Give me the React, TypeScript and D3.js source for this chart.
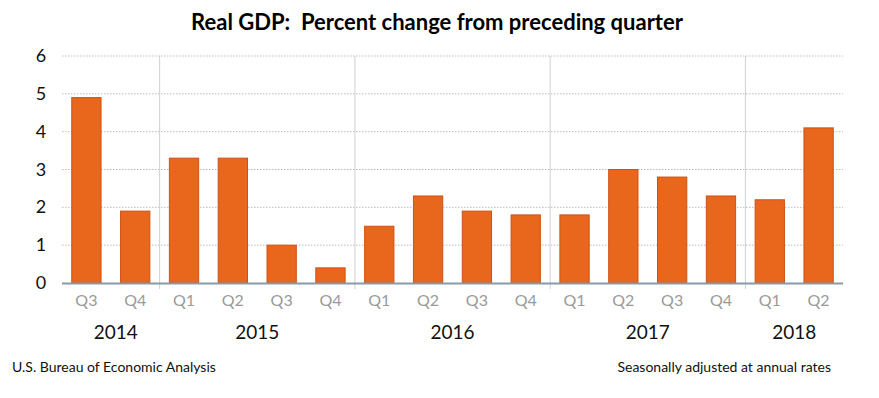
import React, { useEffect, useRef } from "react";
import * as d3 from "d3";

const quarters = ["Q3", "Q4", "Q1", "Q2", "Q3", "Q4", "Q1", "Q2", "Q3", "Q4", "Q1", "Q2", "Q3", "Q4", "Q1", "Q2"];
const years = ["2014", "2014", "2015", "2015", "2015", "2015", "2016", "2016", "2016", "2016", "2017", "2017", "2017", "2017", "2018", "2018"];
const growth = [4.9, 1.9, 3.3, 3.3, 1.0, 0.4, 1.5, 2.3, 1.9, 1.8, 1.8, 3.0, 2.8, 2.3, 2.2, 4.1];
const yTicks = [0, 1, 2, 3, 4, 5, 6];

const W = 879;
const H = 398;
const FONT = "Lato, 'Open Sans', sans-serif";

export default function App() {
  const ref = useRef<SVGSVGElement>(null);

  useEffect(() => {
    const svg = d3.select(ref.current);
    svg.selectAll("*").remove();

    const left = 62;
    const right = 843;
    const top = 56;
    const bottom = 283;

    const keys = quarters.map((q, i) => years[i] + q);
    const x = d3.scaleBand().domain(keys).range([left, right]).paddingInner(0.4).paddingOuter(0.2);
    const y = d3.scaleLinear().domain([0, 6]).range([bottom, top]);
    const step = x.step();

    // title
    svg
      .append("text")
      .attr("x", 437)
      .attr("y", 30)
      .attr("text-anchor", "middle")
      .attr("font-family", FONT)
      .attr("font-weight", "bold")
      .attr("font-size", 22)
      .style("white-space", "pre")
      .text("Real GDP:  Percent change from preceding quarter");

    // dotted gridlines
    svg
      .append("g")
      .selectAll("line")
      .data(yTicks.filter(d => d > 0))
      .enter()
      .append("line")
      .attr("x1", left)
      .attr("x2", right)
      .attr("y1", d => y(d))
      .attr("y2", d => y(d))
      .attr("stroke", "#bdbdbd")
      .attr("stroke-width", 1)
      .attr("stroke-dasharray", "1.5,1.5");

    // year separators
    const groups = Array.from(new Set(years));
    const firstIdx = groups.map(g => years.indexOf(g));
    svg
      .append("g")
      .selectAll("line")
      .data(firstIdx.slice(1))
      .enter()
      .append("line")
      .attr("x1", i => left + i * step)
      .attr("x2", i => left + i * step)
      .attr("y1", top)
      .attr("y2", bottom + 6)
      .attr("stroke", "#d0d0d0")
      .attr("stroke-width", 1);

    // bars
    svg
      .append("g")
      .selectAll("rect")
      .data(growth)
      .enter()
      .append("rect")
      .attr("x", (d, i) => x(keys[i])!)
      .attr("y", d => y(d))
      .attr("width", x.bandwidth())
      .attr("height", d => bottom - y(d))
      .attr("fill", "#e8671d")
      .attr("stroke", "#cc5216")
      .attr("stroke-width", 1);

    // baseline
    svg
      .append("line")
      .attr("x1", left)
      .attr("x2", right)
      .attr("y1", bottom + 0.5)
      .attr("y2", bottom + 0.5)
      .attr("stroke", "#8a9aa8")
      .attr("stroke-width", 2);

    // y tick labels
    svg
      .append("g")
      .selectAll("text")
      .data(yTicks)
      .enter()
      .append("text")
      .attr("x", 41)
      .attr("y", d => y(d) + 6)
      .attr("text-anchor", "middle")
      .attr("font-family", FONT)
      .attr("font-size", 18)
      .attr("fill", "#111")
      .text(d => d);

    // quarter labels
    svg
      .append("g")
      .selectAll("text")
      .data(quarters)
      .enter()
      .append("text")
      .attr("x", (d, i) => x(keys[i])! + x.bandwidth() / 2)
      .attr("y", 306)
      .attr("text-anchor", "middle")
      .attr("font-family", FONT)
      .attr("font-size", 16)
      .attr("fill", "#9a9a9a")
      .text(d => d);

    // year labels
    svg
      .append("g")
      .selectAll("text")
      .data(groups)
      .enter()
      .append("text")
      .attr("x", g => {
        const idx = keys.filter((k, i) => years[i] === g);
        const a = x(idx[0])!;
        const b = x(idx[idx.length - 1])! + x.bandwidth();
        return (a + b) / 2 + (g === "2014" ? 5 : 0);
      })
      .attr("y", 339)
      .attr("text-anchor", "middle")
      .attr("font-family", FONT)
      .attr("font-size", 19)
      .attr("fill", "#111")
      .text(g => g);

    // footer
    svg
      .append("text")
      .attr("x", 12)
      .attr("y", 372)
      .attr("font-family", FONT)
      .attr("font-size", 14)
      .attr("fill", "#111")
      .text("U.S. Bureau of Economic Analysis");
    svg
      .append("text")
      .attr("x", 831)
      .attr("y", 372)
      .attr("text-anchor", "end")
      .attr("font-family", FONT)
      .attr("font-size", 14)
      .attr("fill", "#111")
      .text("Seasonally adjusted at annual rates");
  }, []);

  return (
    <svg
      ref={ref}
      width={W}
      height={H}
      style={{ position: "absolute", left: 0, top: 0, background: "#fff" }}
    ></svg>
  );
}
